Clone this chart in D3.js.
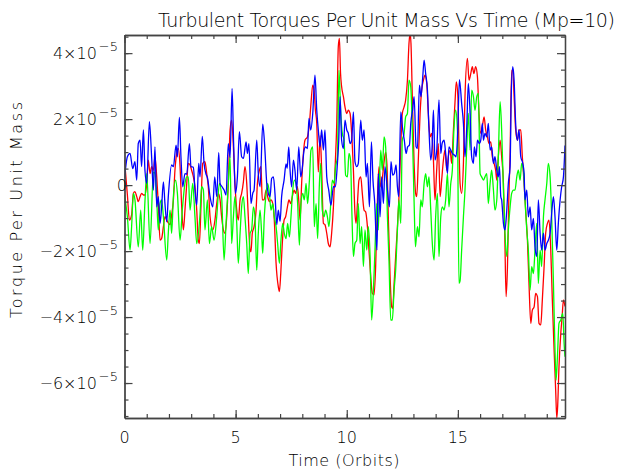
<!DOCTYPE html>
<html>
<head>
<meta charset="utf-8">
<script src="https://cdn.jsdelivr.net/npm/d3@7"></script>
<style>
  body { margin: 0; background: #fff; }
  text { font-family: "DejaVu Sans", sans-serif; font-weight: 200; fill: #000; }
</style>
</head>
<body>
<svg id="chart"></svg>
<script>
// [time (orbits), torque per unit mass in units of 1e-5]
var redTorque = [[0,0.76],[0.13,-0.3],[0.22,-1.06],[0.32,-0.9],[0.40,-0.25],[0.47,-0.2],[0.55,-0.35],[0.62,-0.5],[0.70,-0.35],[0.77,-0.25],[0.85,-0.3],[0.92,-0.3],[1.0,0.05],[1.07,0.76],[1.15,0.35],[1.22,0.56],[1.30,0.45],[1.37,0.86],[1.45,0.25],[1.52,-0.56],[1.60,-1.67],[1.67,-1.62],[1.75,-1.26],[1.82,-0.96],[1.93,-1.1],[2.05,-1.2],[2.12,-0.91],[2.20,-0.45],[2.27,0.45],[2.35,0.96],[2.42,1.11],[2.50,0.56],[2.57,-0.6],[2.65,-1.36],[2.72,-0.76],[2.80,0.05],[2.87,0.66],[2.95,0.61],[3.02,0.45],[3.10,0.25],[3.17,-0.05],[3.25,-0.76],[3.32,-1.67],[3.37,-1.77],[3.44,-0.66],[3.52,0.66],[3.62,0.71],[3.70,0.35],[3.77,-0.05],[3.85,-0.96],[3.97,-1.36],[4.07,-1.06],[4.15,-0.56],[4.22,-0.25],[4.30,-0.45],[4.37,-0.96],[4.45,-1.36],[4.52,-1.46],[4.60,-0.96],[4.67,0.05],[4.75,1.67],[4.82,1.97],[4.90,1.16],[4.97,0.05],[5.05,-0.76],[5.12,-1.06],[5.20,-0.45],[5.27,-0.25],[5.35,0.1],[5.42,0.56],[5.50,0.05],[5.57,-0.96],[5.65,-1.97],[5.69,-2.02],[5.75,-1.46],[5.83,-1.26],[5.92,-0.76],[5.98,0.05],[6.07,0.45],[6.14,0.56],[6.20,-0.45],[6.28,-0.45],[6.37,-0.15],[6.44,-0.35],[6.52,-0.5],[6.59,-0.45],[6.67,-0.56],[6.74,-1.06],[6.82,-2.37],[6.92,-3.08],[6.97,-3.23],[7.03,-2.68],[7.10,-1.77],[7.18,-1.06],[7.25,-0.96],[7.33,-0.66],[7.40,-0.45],[7.48,-0.56],[7.55,-0.35],[7.63,-0.15],[7.70,-0.25],[7.78,-0.05],[7.85,-0.56],[7.90,-1.06],[7.97,0.05],[8.05,0.96],[8.12,1.36],[8.23,1.46],[8.32,1.87],[8.39,2.47],[8.47,3.03],[8.53,2.88],[8.59,2.27],[8.65,1.87],[8.72,0.4],[8.80,1.5],[8.87,0.5],[8.95,-1.16],[9.02,-1.2],[9.10,-1.46],[9.17,-1.77],[9.25,-1.87],[9.32,-1.46],[9.40,-0.66],[9.47,0.45],[9.55,1.87],[9.62,4.2],[9.67,4.45],[9.72,3.4],[9.77,2.98],[9.85,2.68],[9.92,2.37],[10.0,2.17],[10.07,2.27],[10.15,2.17],[10.22,1.57],[10.30,0.45],[10.37,-0.86],[10.42,-1.16],[10.48,-0.56],[10.55,0.15],[10.63,0.25],[10.70,-0.25],[10.78,-0.76],[10.85,-0.81],[10.93,-1.26],[11.0,-1.97],[11.08,-2.78],[11.15,-3.28],[11.23,-3.33],[11.30,-2.47],[11.38,-0.45],[11.45,0.56],[11.53,-0.05],[11.60,0.2],[11.69,0.76],[11.75,1.0],[11.81,0.6],[11.87,-0.96],[11.95,-2.78],[12.02,-3.69],[12.07,-3.74],[12.13,-3.0],[12.20,-2.17],[12.28,-1.26],[12.35,-0.35],[12.43,1.16],[12.50,2.17],[12.58,2.37],[12.65,2.58],[12.73,3.18],[12.80,4.29],[12.85,4.6],[12.89,4.29],[12.95,2.68],[13.03,0.66],[13.10,-0.25],[13.15,-0.35],[13.22,0.76],[13.30,2.17],[13.37,2.88],[13.45,3.18],[13.52,3.33],[13.60,3.08],[13.67,2.17],[13.75,1.46],[13.82,1.57],[13.90,0.76],[13.97,-0.45],[14.05,0.5],[14.12,1.26],[14.20,-0.35],[14.27,0.15],[14.35,0.76],[14.42,1.06],[14.50,0.45],[14.57,0.86],[14.65,1.06],[14.72,0.66],[14.80,1.67],[14.87,2.5],[14.93,3.13],[15.0,2.68],[15.05,1.16],[15.10,0.05],[15.17,-0.25],[15.25,0.66],[15.32,2.68],[15.43,3.84],[15.50,3.18],[15.58,3.38],[15.65,3.59],[15.72,3.38],[15.80,3.59],[15.88,3.28],[15.95,2.17],[16.03,1.57],[16.10,1.77],[16.18,2.07],[16.25,1.67],[16.33,1.46],[16.40,1.26],[16.48,1.31],[16.55,0.86],[16.63,0.66],[16.70,0.45],[16.75,0.15],[16.82,0.86],[16.90,1.36],[16.97,0.86],[17.05,0.05],[17.11,-1.5],[17.17,-3.38],[17.23,-2.5],[17.29,-0.5],[17.35,1.0],[17.42,3.48],[17.47,3.48],[17.53,2.68],[17.60,1.67],[17.68,1.36],[17.75,1.67],[17.83,1.67],[17.90,0.86],[17.98,0.05],[18.05,-0.76],[18.13,-1.67],[18.20,-2.98],[18.28,-4.19],[18.35,-3.79],[18.43,-3.69],[18.50,-3.28],[18.58,-3.38],[18.65,-4.19],[18.73,-4.24],[18.80,-3.48],[18.88,-2.47],[18.95,-1.46],[19.03,-1.16],[19.10,-1.06],[19.18,-1.97],[19.25,-3.48],[19.33,-5.0],[19.40,-6.21],[19.45,-7.06],[19.49,-6.7],[19.55,-5.5],[19.63,-4.5],[19.69,-3.99],[19.75,-3.48],[19.82,-3.68]];

var greenTorque = [[0,-0.3],[0.13,-0.96],[0.25,-1.97],[0.32,-1.26],[0.40,-0.25],[0.47,-0.45],[0.62,-1.87],[0.73,-0.76],[0.82,-1.97],[0.92,-0.5],[1.0,0.35],[1.15,-1.77],[1.30,0.4],[1.37,0.35],[1.45,-0.45],[1.52,-1.36],[1.60,-0.56],[1.67,-0.45],[1.75,-0.96],[1.90,-2.27],[1.97,-1.46],[2.05,-0.76],[2.12,-1.46],[2.20,-0.35],[2.30,0.15],[2.38,-0.25],[2.50,-1.67],[2.60,-0.76],[2.72,0.05],[2.80,0.25],[2.87,0.25],[2.95,-0.76],[3.07,0.05],[3.17,-0.96],[3.25,-1.77],[3.40,-0.86],[3.47,-0.05],[3.55,-0.15],[3.62,-1.36],[3.73,-0.45],[3.82,-1.77],[3.92,-1.26],[4.03,-1.67],[4.15,-0.96],[4.27,0.05],[4.37,-0.35],[4.48,-2.27],[4.57,-1.16],[4.67,0.05],[4.75,0.86],[4.82,-1.77],[4.90,-0.96],[4.97,-0.35],[5.05,-1.16],[5.12,-2.37],[5.20,-1.46],[5.27,-0.66],[5.35,-0.35],[5.42,-0.96],[5.50,-1.77],[5.57,-2.68],[5.65,-1.46],[5.72,-1.36],[5.80,-0.66],[5.87,-0.96],[5.95,-2.58],[6.02,-1.46],[6.10,-0.76],[6.17,-1.46],[6.22,-2.07],[6.29,-0.96],[6.37,-0.25],[6.44,0.05],[6.52,-0.25],[6.59,-0.76],[6.67,-0.56],[6.74,-0.96],[6.82,-1.26],[6.89,-1.77],[6.97,-2.37],[7.04,-1.67],[7.12,-1.16],[7.19,-1.46],[7.27,-1.62],[7.34,-1.16],[7.42,-1.57],[7.49,-0.96],[7.57,-0.15],[7.64,0.15],[7.72,0.05],[7.79,-0.56],[7.87,-1.82],[7.94,-0.56],[8.02,-0.25],[8.09,-0.45],[8.17,0.05],[8.24,-0.56],[8.32,0.15],[8.39,1.06],[8.47,1.16],[8.54,-1.26],[8.62,-0.56],[8.69,-1.62],[8.77,0.05],[8.83,0.66],[8.90,-0.76],[8.98,-0.96],[9.05,-0.76],[9.13,-0.96],[9.20,-1.26],[9.28,-0.56],[9.35,0.15],[9.43,0.05],[9.50,0.56],[9.58,0.86],[9.65,3.48],[9.73,2.17],[9.80,1.57],[9.88,1.36],[9.95,0.3],[10.03,0.25],[10.10,0.96],[10.17,0.76],[10.23,-0.8],[10.30,-2.17],[10.37,-1.77],[10.45,-1.67],[10.52,-0.56],[10.60,-1.77],[10.67,-1.26],[10.75,-2.47],[10.82,-1.36],[10.90,-1.97],[10.97,-1.26],[11.05,-2.17],[11.12,-4.09],[11.20,-3.18],[11.27,-1.97],[11.35,-0.56],[11.42,-1.36],[11.47,0.0],[11.53,1.06],[11.60,0.45],[11.68,1.46],[11.75,1.16],[11.83,-0.96],[11.90,-2.27],[11.98,-4.09],[12.05,-4.09],[12.13,-3.18],[12.20,-2.58],[12.28,-1.36],[12.35,-0.45],[12.43,-1.16],[12.50,1.36],[12.58,1.57],[12.65,2.07],[12.73,2.17],[12.80,3.18],[12.88,2.98],[12.95,1.67],[13.03,-0.5],[13.09,-1.87],[13.18,-1.26],[13.25,-1.57],[13.33,-0.45],[13.40,-0.66],[13.48,0.05],[13.55,0.35],[13.63,-0.05],[13.70,0.25],[13.78,-0.76],[13.85,-1.77],[13.93,-2.27],[14.0,-0.96],[14.08,-0.25],[14.15,-2.17],[14.23,-0.96],[14.30,-0.66],[14.38,-0.76],[14.45,-0.45],[14.53,0.35],[14.60,-0.66],[14.68,0.05],[14.75,0.45],[14.83,1.8],[14.90,2.27],[14.98,1.67],[15.05,-2.98],[15.10,-2.9],[15.17,-1.97],[15.25,-0.96],[15.32,-0.15],[15.40,1.16],[15.47,2.17],[15.55,1.06],[15.62,2.88],[15.70,2.68],[15.77,2.27],[15.85,2.68],[15.92,2.78],[16.0,0.35],[16.07,0.25],[16.15,0.15],[16.22,0.25],[16.30,0.35],[16.37,-0.56],[16.45,0.05],[16.52,0.45],[16.60,-0.15],[16.67,-0.76],[16.75,-0.45],[16.82,0.86],[16.90,2.53],[16.97,1.67],[17.05,-0.15],[17.12,-1.46],[17.20,-2.17],[17.27,-1.36],[17.35,-0.66],[17.42,-0.25],[17.50,-0.15],[17.57,-0.15],[17.65,0.25],[17.72,0.45],[17.80,0.15],[17.87,0.66],[17.95,0.45],[18.02,-0.45],[18.10,-1.36],[18.17,-1.97],[18.25,-3.18],[18.32,-2.47],[18.40,-2.68],[18.47,-1.97],[18.55,-1.16],[18.62,-2.98],[18.70,-1.97],[18.77,-2.47],[18.85,-0.96],[18.92,-0.45],[19.0,0.05],[19.07,0.66],[19.15,0.25],[19.22,-0.96],[19.30,-2.98],[19.37,-5.0],[19.42,-5.91],[19.48,-5.2],[19.55,-4.19],[19.63,-4.09],[19.72,-3.89],[19.78,-4.8],[19.82,-5.2]];

var blueTorque = [[0,0.2],[0.13,0.86],[0.25,0.96],[0.37,0.5],[0.47,0.71],[0.55,0.15],[0.62,1.26],[0.70,1.36],[0.77,0.56],[0.85,1.67],[0.92,0.45],[1.0,0.05],[1.12,1.92],[1.22,0.86],[1.30,-0.15],[1.37,1.16],[1.45,-0.66],[1.52,-0.35],[1.60,-1.16],[1.67,-0.66],[1.75,0.10],[1.82,-0.56],[1.90,-1.11],[1.97,-0.35],[2.12,0.61],[2.20,0.56],[2.32,1.21],[2.38,0.86],[2.47,2.05],[2.54,0.86],[2.62,-0.05],[2.72,0.35],[2.80,0.33],[2.92,1.26],[2.99,0.56],[3.10,0.54],[3.17,-0.15],[3.25,-0.61],[3.34,0.66],[3.40,0.25],[3.50,1.48],[3.58,0.66],[3.67,0.33],[3.73,0.23],[3.85,-0.35],[3.97,-0.66],[4.06,0.25],[4.15,-0.35],[4.24,0.98],[4.30,0.05],[4.39,-0.05],[4.48,-0.15],[4.57,-0.30],[4.67,1.26],[4.75,0.84],[4.84,2.93],[4.91,1.26],[4.99,-0.25],[5.08,0.25],[5.17,1.62],[5.27,0.86],[5.35,0.81],[5.47,1.31],[5.53,0.96],[5.60,1.26],[5.69,-0.56],[5.77,-0.25],[5.83,-0.15],[5.95,1.36],[6.02,0.35],[6.10,-0.05],[6.22,1.85],[6.31,1.16],[6.40,0.05],[6.47,-0.25],[6.55,-0.35],[6.62,0.20],[6.70,0.25],[6.77,-0.25],[6.85,-1.2],[6.92,-0.76],[7.0,-1.1],[7.07,-0.35],[7.18,0.15],[7.27,0.64],[7.32,0.51],[7.39,1.16],[7.45,0.45],[7.52,-0.05],[7.60,0.76],[7.67,0.45],[7.75,-0.15],[7.84,1.16],[7.93,0.25],[7.99,0.45],[8.08,1.06],[8.15,1.16],[8.23,1.11],[8.30,2.02],[8.38,1.67],[8.47,2.17],[8.57,3.33],[8.65,2.27],[8.72,1.67],[8.80,1.16],[8.87,1.67],[8.95,1.06],[9.02,1.67],[9.10,0.25],[9.19,-0.15],[9.29,-0.61],[9.40,-0.05],[9.49,-0.05],[9.57,0.56],[9.64,1.36],[9.70,2.68],[9.77,1.36],[9.85,1.11],[9.92,1.97],[10.0,1.67],[10.07,1.57],[10.15,1.26],[10.22,1.36],[10.30,2.22],[10.37,0.71],[10.45,0.56],[10.52,0.66],[10.63,1.97],[10.70,1.36],[10.78,1.67],[10.87,0.25],[10.93,0.66],[11.02,-0.66],[11.11,1.31],[11.18,0.15],[11.26,-0.56],[11.32,-1.57],[11.36,-1.97],[11.42,0.35],[11.50,-0.96],[11.57,0.25],[11.65,-0.56],[11.72,0.56],[11.83,-0.15],[11.92,-0.66],[11.99,0.71],[12.07,0.30],[12.14,0.35],[12.22,0.61],[12.28,-0.05],[12.34,-0.35],[12.43,2.22],[12.52,1.67],[12.59,1.36],[12.67,0.96],[12.74,1.16],[12.82,1.21],[12.88,1.87],[12.97,2.32],[13.03,2.68],[13.12,1.16],[13.18,1.11],[13.27,3.03],[13.34,2.68],[13.42,3.28],[13.48,3.79],[13.55,3.38],[13.63,2.88],[13.70,1.67],[13.78,0.76],[13.84,1.16],[13.90,2.27],[13.97,0.76],[14.05,1.06],[14.15,2.58],[14.23,0.96],[14.29,1.26],[14.38,1.36],[14.45,0.96],[14.53,0.35],[14.60,1.16],[14.68,1.06],[14.75,0.96],[14.84,0.91],[14.92,0.86],[14.99,1.57],[15.07,3.2],[15.17,2.47],[15.25,1.87],[15.32,0.86],[15.40,1.77],[15.47,3.08],[15.55,2.17],[15.62,0.86],[15.70,0.66],[15.74,1.16],[15.82,0.86],[15.88,1.36],[15.97,1.26],[16.03,1.36],[16.10,1.87],[16.15,1.36],[16.22,1.57],[16.30,1.46],[16.37,1.87],[16.45,1.06],[16.52,1.16],[16.60,0.66],[16.67,0.86],[16.75,0.45],[16.82,0.25],[16.87,0.56],[16.93,-0.35],[16.97,-0.45],[17.05,-1.16],[17.12,-1.36],[17.20,-0.76],[17.27,0.05],[17.35,0.56],[17.40,2.68],[17.47,3.59],[17.53,3.18],[17.60,1.87],[17.68,1.36],[17.75,1.67],[17.83,0.86],[17.92,0.66],[17.98,0.35],[18.02,-0.45],[18.10,-0.15],[18.17,-0.96],[18.25,-0.66],[18.32,-1.36],[18.40,-1.01],[18.47,-1.87],[18.55,-2.17],[18.62,-0.45],[18.70,-1.46],[18.77,-1.97],[18.85,-1.46],[18.92,-1.97],[19.0,-1.77],[19.07,-1.67],[19.15,-1.46],[19.22,-0.86],[19.30,-0.35],[19.37,-0.96],[19.45,-1.97],[19.52,-1.16],[19.60,-0.45],[19.67,-0.05],[19.75,0.25],[19.82,1.2]];

var xMajor = [0, 5, 10, 15];
var xMinor = d3.range(0, 20, 1);
var yMajor = [-6, -4, -2, 0, 2, 4];
var yMinor = d3.range(-7, 4.6, 0.5);

var W = 620, H = 476;
var plotLeft = 124.5, plotRight = 565, plotTop = 35, plotBottom = 418;
var axisColor = "#444";

var svg = d3.select("#chart").attr("width", W).attr("height", H);
svg.append("rect").attr("width", W).attr("height", H).attr("fill", "#fff");

var x = d3.scaleLinear().domain([0, 19.82]).range([plotLeft, plotRight]);
var y = d3.scaleLinear().domain([-7.06, 4.55]).range([plotBottom, plotTop]);

svg.append("clipPath").attr("id", "plotclip")
  .append("rect")
  .attr("x", plotLeft).attr("y", plotTop)
  .attr("width", plotRight - plotLeft).attr("height", plotBottom - plotTop);

// the three curves
var line = d3.line()
  .curve(d3.curveMonotoneX)
  .x(function (d) { return x(d[0]); })
  .y(function (d) { return y(d[1]); });
var series = [
  { data: redTorque, color: "#ff0000" },
  { data: greenTorque, color: "#00ff00" },
  { data: blueTorque, color: "#0000ff" }
];
svg.append("g")
  .attr("clip-path", "url(#plotclip)")
  .selectAll("path")
  .data(series)
  .enter()
  .append("path")
  .attr("d", function (d) { return line(d.data); })
  .attr("fill", "none")
  .attr("stroke", function (d) { return d.color; })
  .attr("stroke-width", 1.3)
  .attr("stroke-linejoin", "round");

// axes, ticks pointing inward on all four sides
function drawAxis(axis, tx, ty) {
  var g = svg.append("g")
    .attr("transform", "translate(" + tx + "," + ty + ")")
    .call(axis);
  g.selectAll("text").remove();
  g.select(".domain").attr("stroke", axisColor).attr("stroke-width", 1.3);
  g.selectAll(".tick line").attr("stroke", axisColor).attr("stroke-width", 1.2);
  return g;
}
drawAxis(d3.axisBottom(x).tickValues(xMinor).tickSize(-4).tickSizeOuter(0), 0, plotBottom);
drawAxis(d3.axisBottom(x).tickValues(xMajor).tickSize(-8).tickSizeOuter(0), 0, plotBottom);
drawAxis(d3.axisTop(x).tickValues(xMinor).tickSize(-4).tickSizeOuter(0), 0, plotTop);
drawAxis(d3.axisTop(x).tickValues(xMajor).tickSize(-8).tickSizeOuter(0), 0, plotTop);
drawAxis(d3.axisLeft(y).tickValues(yMinor).tickSize(-4).tickSizeOuter(0), plotLeft, 0);
drawAxis(d3.axisLeft(y).tickValues(yMajor).tickSize(-8).tickSizeOuter(0), plotLeft, 0);
drawAxis(d3.axisRight(y).tickValues(yMinor).tickSize(-4).tickSizeOuter(0), plotRight, 0);
drawAxis(d3.axisRight(y).tickValues(yMajor).tickSize(-8).tickSizeOuter(0), plotRight, 0);

// x tick labels
svg.append("g").selectAll("text")
  .data(xMajor)
  .enter()
  .append("text")
  .attr("x", function (d) { return x(d); })
  .attr("y", 443)
  .attr("text-anchor", "middle")
  .attr("font-size", 16)
  .text(function (d) { return d; });

// y tick labels with exponent
var yLab = svg.append("g").selectAll("text")
  .data(yMajor)
  .enter()
  .append("text")
  .attr("x", 118)
  .attr("y", function (d) { return y(d); })
  .attr("dy", "0.38em")
  .attr("text-anchor", "end")
  .attr("font-size", 16);
yLab.each(function (d) {
  var t = d3.select(this);
  if (d === 0) { t.attr("x", 127).text("0"); return; }
  t.append("tspan").text((d < 0 ? "\u2212" : "") + Math.abs(d) + "\u00d710");
  t.append("tspan").attr("dy", "-0.6em").attr("font-size", 13).attr("dx", 2).text("\u22125");
});

// titles
svg.append("text")
  .attr("x", 158).attr("y", 27)
  .attr("font-size", 19)
  .attr("textLength", 457)
  .text("Turbulent Torques Per Unit Mass Vs Time (Mp=10)");

svg.append("text")
  .attr("x", 344).attr("y", 466)
  .attr("text-anchor", "middle")
  .attr("font-size", 16)
  .attr("textLength", 111)
  .text("Time (Orbits)");

svg.append("text")
  .attr("transform", "translate(22,210) rotate(-90)")
  .attr("text-anchor", "middle")
  .attr("font-size", 16)
  .attr("textLength", 216)
  .text("Torque Per Unit Mass");
</script>
</body>
</html>
